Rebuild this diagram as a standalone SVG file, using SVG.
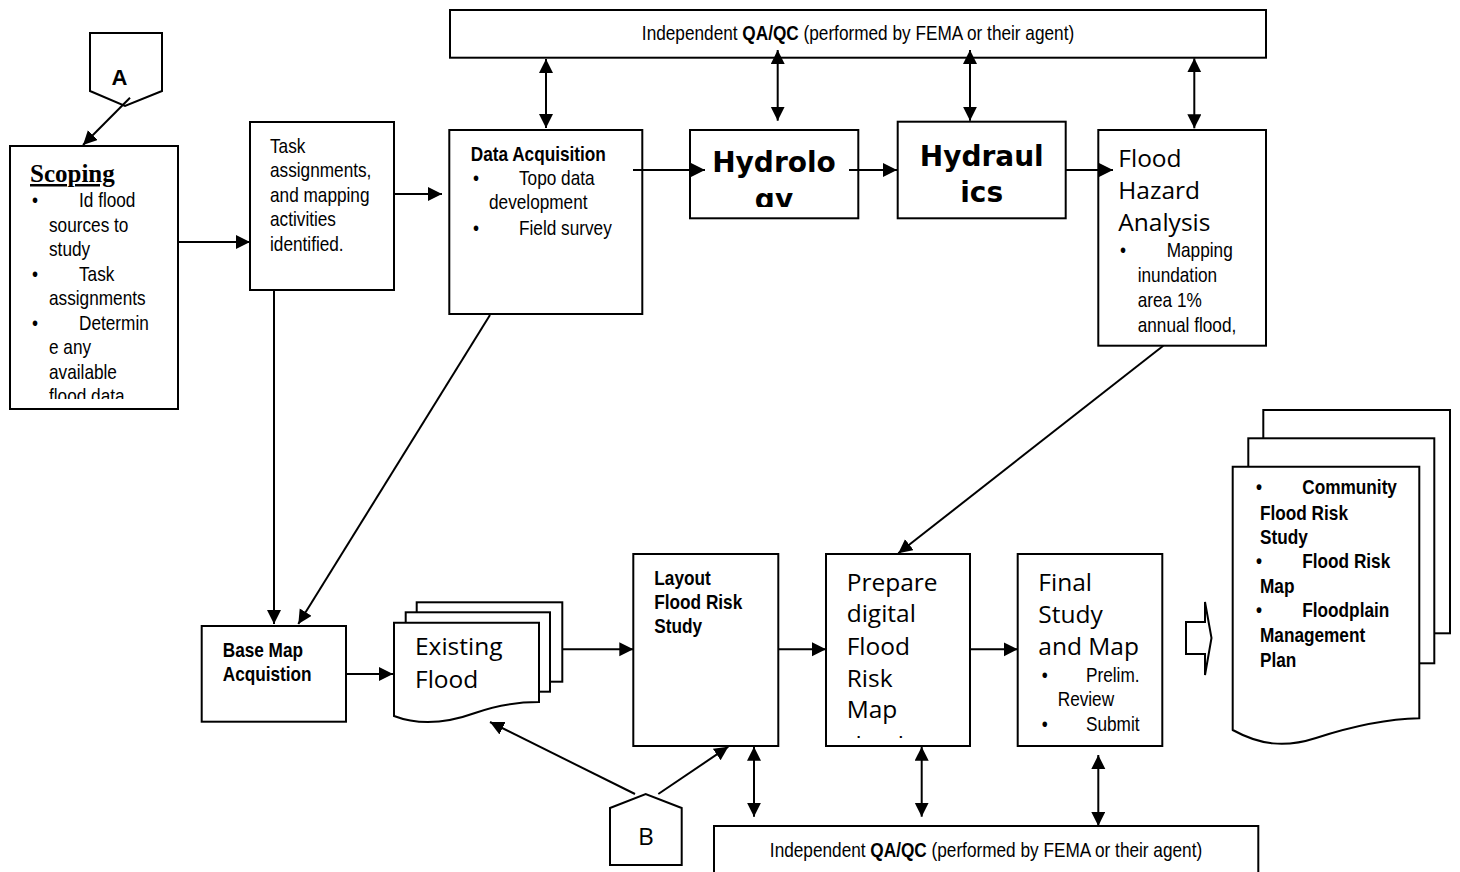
<svg xmlns="http://www.w3.org/2000/svg" width="1460" height="872" viewBox="0 0 1460 872">
<defs>
<style>
.box{fill:#fff;stroke:#000;stroke-width:2}
.ln{fill:none;stroke:#000;stroke-width:2}
.n{font-family:"Liberation Sans",Arial,sans-serif;font-size:21px;fill:#000}
.nb{font-family:"Liberation Sans",Arial,sans-serif;font-size:21px;font-weight:bold;fill:#000}
.o{font-family:"Open Sans","Noto Sans",sans-serif;font-size:24.5px;fill:#000}
.h{font-family:"DejaVu Sans",Verdana,sans-serif;font-size:28px;font-weight:bold;fill:#000}
</style>
<marker id="ah" markerUnits="userSpaceOnUse" markerWidth="16" markerHeight="16" refX="14" refY="7" orient="auto-start-reverse">
<path d="M0,0 L14,7 L0,14 Z" fill="#000"/>
</marker>
<clipPath id="cScoping"><rect x="10" y="146" width="168" height="253"/></clipPath>
<clipPath id="cHydro"><rect x="690" y="130" width="168" height="77"/></clipPath>
<clipPath id="cPrep"><rect x="826" y="554" width="144" height="184"/></clipPath>
</defs>
<rect width="1460" height="872" fill="#fff"/>

<g id="qa-top">
<rect class="box" x="450" y="10" width="816" height="47.7"/>
<text class="n" font-size="21.5" text-anchor="middle" transform="translate(858,40) scale(0.82,1)">Independent <tspan font-weight="bold">QA/QC</tspan> (performed by FEMA or their agent)</text>
</g>

<g id="connector-a">
<path class="box" d="M90,33 L162,33 L162,91 L125,106 L90,91 Z"/>
<text x="119.5" y="85" text-anchor="middle" font-family="Liberation Sans,Arial,sans-serif" font-size="22" font-weight="bold">A</text>
</g>

<g id="scoping">
<rect class="box" x="10" y="146" width="168" height="263"/>
<text x="30" y="182" font-family="Liberation Serif,'Times New Roman',serif" font-size="25" font-weight="bold" text-decoration="underline">Scoping</text>
<g clip-path="url(#cScoping)">
<text class="n" transform="translate(32,207) scale(0.82,1)">•</text>
<text class="n" transform="translate(79,207) scale(0.82,1)">Id flood</text>
<text class="n" transform="translate(49,232) scale(0.82,1)">sources to</text>
<text class="n" transform="translate(49,256) scale(0.82,1)">study</text>
<text class="n" transform="translate(32,281) scale(0.82,1)">•</text>
<text class="n" transform="translate(79,281) scale(0.82,1)">Task</text>
<text class="n" transform="translate(49,305) scale(0.82,1)">assignments</text>
<text class="n" transform="translate(32,330) scale(0.82,1)">•</text>
<text class="n" transform="translate(79,330) scale(0.82,1)">Determin</text>
<text class="n" transform="translate(49,354) scale(0.82,1)">e any</text>
<text class="n" transform="translate(49,379) scale(0.82,1)">available</text>
<text class="n" transform="translate(49,403) scale(0.82,1)">flood data</text>
</g>
</g>

<g id="task">
<rect class="box" x="250" y="122" width="144" height="168"/>
<text class="n" transform="translate(270,153) scale(0.82,1)">Task</text>
<text class="n" transform="translate(270,177) scale(0.82,1)">assignments,</text>
<text class="n" transform="translate(270,202) scale(0.82,1)">and mapping</text>
<text class="n" transform="translate(270,226) scale(0.82,1)">activities</text>
<text class="n" transform="translate(270,251) scale(0.82,1)">identified.</text>
</g>

<g id="data-acquisition">
<rect class="box" x="449.3" y="130" width="193" height="184"/>
<text class="nb" font-size="20" transform="translate(470.7,161) scale(0.82,1)">Data Acquisition</text>
<text class="n" transform="translate(473,185) scale(0.82,1)">•</text>
<text class="n" transform="translate(519,185) scale(0.82,1)">Topo data</text>
<text class="n" transform="translate(489,209) scale(0.82,1)">development</text>
<text class="n" transform="translate(473,235) scale(0.82,1)">•</text>
<text class="n" transform="translate(519,235) scale(0.82,1)">Field survey</text>
</g>

<g id="hydrology">
<rect class="box" x="690" y="130" width="168.3" height="88.3"/>
<g clip-path="url(#cHydro)">
<text class="h" x="774" y="172" text-anchor="middle">Hydrolo</text>
<text class="h" x="774" y="208.5" text-anchor="middle">gy</text>
</g>
</g>

<g id="hydraulics">
<rect class="box" x="897.7" y="121.7" width="168" height="96.6"/>
<text class="h" x="981.7" y="165.7" text-anchor="middle">Hydraul</text>
<text class="h" x="981.7" y="202" text-anchor="middle">ics</text>
</g>

<g id="flood-hazard-analysis">
<rect class="box" x="1098.3" y="130" width="167.7" height="215.7"/>
<text class="o" x="1118.3" y="166.7">Flood</text>
<text class="o" x="1118.3" y="199">Hazard</text>
<text class="o" x="1118.3" y="231">Analysis</text>
<text class="n" transform="translate(1120,257.3) scale(0.82,1)">•</text>
<text class="n" transform="translate(1166.7,257.3) scale(0.82,1)">Mapping</text>
<text class="n" transform="translate(1137.7,281.7) scale(0.82,1)">inundation</text>
<text class="n" transform="translate(1137.7,306.7) scale(0.82,1)">area 1%</text>
<text class="n" transform="translate(1137.7,331.7) scale(0.82,1)">annual flood,</text>
</g>

<g id="base-map">
<rect class="box" x="201.7" y="626" width="144.3" height="95.7"/>
<text class="nb" transform="translate(222.7,656.7) scale(0.82,1)">Base Map</text>
<text class="nb" transform="translate(222.7,680.7) scale(0.82,1)">Acquistion</text>
</g>

<g id="existing-flood">
<rect class="box" x="416.7" y="602.3" width="145.6" height="79.4"/>
<rect class="box" x="405.7" y="612.3" width="144.3" height="79.4"/>
<path class="box" d="M394,622.7 L539,622.7 L539,702 C520,702 500,704 475,713 C450,722 420,726 394,716 Z"/>
<text class="o" font-size="25.5" x="415" y="655">Existing</text>
<text class="o" font-size="25.5" x="415" y="688.3">Flood</text>
</g>

<g id="layout">
<rect class="box" x="633.3" y="554" width="145" height="192"/>
<text class="nb" transform="translate(654.3,585) scale(0.82,1)">Layout</text>
<text class="nb" transform="translate(654.3,609) scale(0.82,1)">Flood Risk</text>
<text class="nb" transform="translate(654.3,633) scale(0.82,1)">Study</text>
</g>

<g id="prepare">
<rect class="box" x="826" y="554" width="144" height="192"/>
<g clip-path="url(#cPrep)">
<text class="o" x="846.7" y="591">Prepare</text>
<text class="o" x="846.7" y="622">digital</text>
<text class="o" x="846.7" y="655">Flood</text>
<text class="o" x="846.7" y="686.7">Risk</text>
<text class="o" x="846.7" y="718.3">Map</text>
<text class="o" x="846.7" y="753.5">database</text>
</g>
</g>

<g id="final">
<rect class="box" x="1017.7" y="554" width="144.6" height="192"/>
<text class="o" x="1038.3" y="591">Final</text>
<text class="o" x="1038.3" y="623.3">Study</text>
<text class="o" x="1038.3" y="655">and Map</text>
<text class="n" transform="translate(1041.7,681.7) scale(0.82,1)">•</text>
<text class="n" transform="translate(1086,681.7) scale(0.82,1)">Prelim.</text>
<text class="n" transform="translate(1057.7,705.7) scale(0.82,1)">Review</text>
<text class="n" transform="translate(1041.7,730.7) scale(0.82,1)">•</text>
<text class="n" transform="translate(1086,730.7) scale(0.82,1)">Submit</text>
</g>

<g id="output-arrow">
<path class="box" d="M1186,622 L1205,622 L1205,602 L1211.5,638 L1205,675 L1205,654 L1186,654 Z"/>
</g>

<g id="deliverables">
<rect class="box" x="1263.3" y="410" width="186.7" height="223.3"/>
<rect class="box" x="1248.3" y="438.3" width="186" height="225"/>
<path class="box" d="M1232.7,466.7 L1419.3,466.7 L1419.3,718.3 C1385,719 1350,727 1316,738 C1285,748 1260,745 1232.7,730 Z"/>
<text class="nb" transform="translate(1256,494.3) scale(0.82,1)">•</text>
<text class="nb" transform="translate(1302.3,494.3) scale(0.82,1)">Community</text>
<text class="nb" transform="translate(1260,520) scale(0.82,1)">Flood Risk</text>
<text class="nb" transform="translate(1260,544.3) scale(0.82,1)">Study</text>
<text class="nb" transform="translate(1256,568.3) scale(0.82,1)">•</text>
<text class="nb" transform="translate(1302.3,568.3) scale(0.82,1)">Flood Risk</text>
<text class="nb" transform="translate(1260,592.7) scale(0.82,1)">Map</text>
<text class="nb" transform="translate(1256,617.3) scale(0.82,1)">•</text>
<text class="nb" transform="translate(1302.3,617.3) scale(0.82,1)">Floodplain</text>
<text class="nb" transform="translate(1260,641.7) scale(0.82,1)">Management</text>
<text class="nb" transform="translate(1260,666.7) scale(0.82,1)">Plan</text>
</g>

<g id="connector-b">
<path class="box" d="M610,808 L645.7,794 L681.7,808 L681.7,865 L610,865 Z"/>
<text class="o" font-size="25.5" x="646" y="845" text-anchor="middle">B</text>
</g>

<g id="qa-bottom">
<rect class="box" x="714" y="826" width="544.3" height="60"/>
<text class="n" font-size="21.5" text-anchor="middle" transform="translate(986,856.7) scale(0.82,1)">Independent <tspan font-weight="bold">QA/QC</tspan> (performed by FEMA or their agent)</text>
</g>

<g id="connectors">
<line class="ln" x1="130" y1="97.7" x2="83" y2="145" marker-end="url(#ah)"/>
<line class="ln" x1="178" y1="242" x2="250" y2="242" marker-end="url(#ah)"/>
<line class="ln" x1="394" y1="194" x2="442" y2="194" marker-end="url(#ah)"/>
<line class="ln" x1="633" y1="170" x2="705" y2="170" marker-end="url(#ah)"/>
<line class="ln" x1="849" y1="170" x2="897" y2="170" marker-end="url(#ah)"/>
<line class="ln" x1="1066" y1="170" x2="1113" y2="170" marker-end="url(#ah)"/>
<line class="ln" x1="546" y1="59" x2="546" y2="128" marker-start="url(#ah)" marker-end="url(#ah)"/>
<line class="ln" x1="777.7" y1="50" x2="777.7" y2="120.7" marker-start="url(#ah)" marker-end="url(#ah)"/>
<line class="ln" x1="970" y1="50" x2="970" y2="120.7" marker-start="url(#ah)" marker-end="url(#ah)"/>
<line class="ln" x1="1194.3" y1="58.3" x2="1194.3" y2="128.3" marker-start="url(#ah)" marker-end="url(#ah)"/>
<line class="ln" x1="274" y1="290" x2="274" y2="624" marker-end="url(#ah)"/>
<line class="ln" x1="490" y1="315" x2="298.3" y2="624" marker-end="url(#ah)"/>
<line class="ln" x1="346" y1="674" x2="393" y2="674" marker-end="url(#ah)"/>
<line class="ln" x1="562.3" y1="649.3" x2="633.3" y2="649.3" marker-end="url(#ah)"/>
<line class="ln" x1="778.3" y1="649.3" x2="826" y2="649.3" marker-end="url(#ah)"/>
<line class="ln" x1="970" y1="649.3" x2="1017.7" y2="649.3" marker-end="url(#ah)"/>
<line class="ln" x1="1163.3" y1="345.7" x2="898.3" y2="553.3" marker-end="url(#ah)"/>
<line class="ln" x1="635" y1="794" x2="490" y2="722" marker-end="url(#ah)"/>
<line class="ln" x1="658.3" y1="794" x2="728.3" y2="746.7" marker-end="url(#ah)"/>
<line class="ln" x1="754" y1="746.7" x2="754" y2="816.7" marker-start="url(#ah)" marker-end="url(#ah)"/>
<line class="ln" x1="921.7" y1="746.7" x2="921.7" y2="816.7" marker-start="url(#ah)" marker-end="url(#ah)"/>
<line class="ln" x1="1098.3" y1="755" x2="1098.3" y2="826" marker-start="url(#ah)" marker-end="url(#ah)"/>
</g>
</svg>
